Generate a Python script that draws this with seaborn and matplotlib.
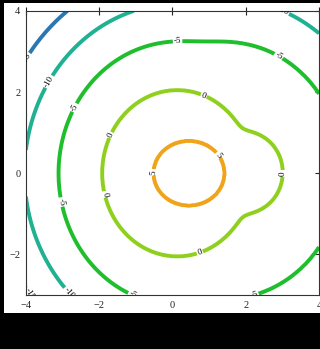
import numpy as np
import matplotlib
matplotlib.use("Agg")
import matplotlib.pyplot as plt
from matplotlib.patches import Rectangle
import seaborn as sns

# contour levels and their colours
levels = [-15, -10, -5, 0, 5]
level_colors = ["#2a78b2", "#1fb191", "#1fbe2c", "#8fd01e", "#f0a41a"]

# surface = smooth max of four radial profiles (radius -> value)
# 0: main body, 1: right lobe of the 0 line, 2: outer right bulge, 3: the 5 peak
peak_x = [0.13, 1.97, 1.47, 0.45]
peak_y = [0.0, 0.02, 0.07, 0.0]
stretch_x = [1.0, 1.04, 1.0, 0.97]
stretch_y = [1.0, 1.0, 1.0, 0.80]
main_radius = [0.0, 2.05, 3.24, 4.17, 5.0, 10.0]
main_value = [3.6, 0.0, -5.0, -10.0, -15.0, -60.0]
lobe_radius = [0.0, 1.0, 2.0, 10.0]
lobe_value = [2.5, 0.0, -8.0, -80.0]
bulge_radius = [0.0, 3.16, 4.22, 5.3, 10.0]
bulge_value = [-1.5, -5.0, -10.0, -15.0, -60.0]
top_radius = [0.0, 1.0, 2.0, 10.0]
top_value = [6.5, 5.0, -10.0, -100.0]

# where the contour labels sit
label_pos = [(-3.9, 2.72), (-3.77, -2.9),
             (-3.36, 2.25), (-2.76, -2.9), (2.65, 3.9),
             (-2.7, 1.63), (0.14, 3.23), (2.79, 2.74), (-3.09, -0.72), (-1.04, -2.95), (2.1, -2.95),
             (-1.8, 0.99), (0.82, 1.83), (3.06, 0.0), (-1.94, -0.54), (0.71, -1.85),
             (-0.49, 0.02), (1.2, 0.42)]

x_ticks = [-4, -2, 0, 2, 4]
y_ticks = [-2, 0, 2, 4]

sns.set_style("white")
plt.rcParams["font.family"] = ["Liberation Serif", "DejaVu Serif"]

xs = np.linspace(-4, 4, 500)
ys = np.linspace(-3, 4, 440)
X, Y = np.meshgrid(xs, ys)

profiles = [(main_radius, main_value), (lobe_radius, lobe_value),
            (bulge_radius, bulge_value), (top_radius, top_value)]
parts = []
for i, (rad, val) in enumerate(profiles):
    rho = np.hypot((X - peak_x[i]) / stretch_x[i], (Y - peak_y[i]) / stretch_y[i])
    parts.append(np.interp(rho, rad, val))
T = 0.6
Z = T * np.logaddexp.reduce(np.stack(parts) / T, axis=0)

fig = plt.figure(figsize=(3.2, 3.49), dpi=100, facecolor="black")
fig.patches.append(Rectangle((0.0125, 0.103), 0.9875, 0.888, transform=fig.transFigure,
                             facecolor="white", edgecolor="none", zorder=-10))
ax = fig.add_axes([0.081, 0.1547, 0.916, 0.814])
ax.set_zorder(1)
ax.set_facecolor("white")

cs = ax.contour(X, Y, Z, levels=levels, colors=level_colors, linewidths=2.8)
ax.clabel(cs, fmt="%d", fontsize=6.5, colors="black", inline=True,
          inline_spacing=1, manual=label_pos)

ax.set_xlim(-4, 4)
ax.set_ylim(-3, 4)
ax.set_xticks(x_ticks)
ax.set_yticks(y_ticks)
ax.tick_params(axis="both", which="both", labelsize=7.5, colors="#222222",
               direction="inout", length=6, width=0.8, pad=1,
               top=True, right=True)
for side in ["top", "right", "bottom", "left"]:
    ax.spines[side].set_color("#333333")
    ax.spines[side].set_linewidth(0.8)

fig.savefig("out.png", dpi=100, facecolor=fig.get_facecolor())
